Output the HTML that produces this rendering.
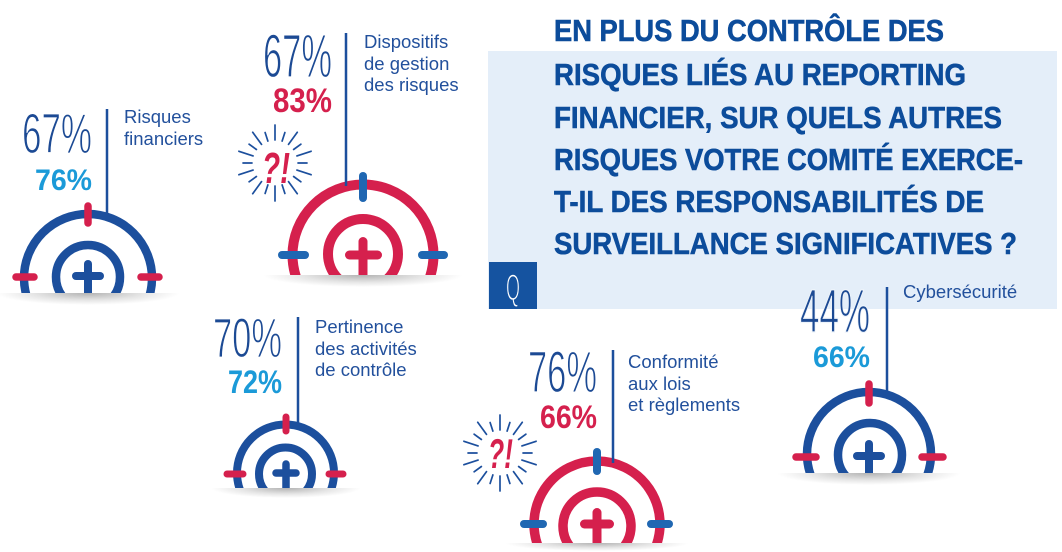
<!DOCTYPE html>
<html><head><meta charset="utf-8"><style>
html,body{margin:0;padding:0;background:#fff;overflow:hidden;width:1062px;height:552px;}
svg{display:block;}
text{font-family:"Liberation Sans",sans-serif;}
.thin{fill:#1c4a94;stroke:#fff;stroke-width:1.2px;}
.lbl{fill:#22509c;font-size:18.5px;}
</style></head><body>
<svg width="1062" height="552" viewBox="0 0 1062 552" xmlns="http://www.w3.org/2000/svg">
<defs>
<radialGradient id="sh" cx="50%" cy="50%" r="50%">
<stop offset="0" stop-color="#000" stop-opacity="0.30"/>
<stop offset="0.6" stop-color="#000" stop-opacity="0.10"/>
<stop offset="1" stop-color="#000" stop-opacity="0"/>
</radialGradient>
<clipPath id="k1"><rect x="0" y="0" width="1062" height="293"/></clipPath>
<clipPath id="k2"><rect x="0" y="0" width="1062" height="275"/></clipPath>
<clipPath id="k3"><rect x="0" y="0" width="1062" height="488"/></clipPath>
<clipPath id="k4"><rect x="0" y="0" width="1062" height="543"/></clipPath>
<clipPath id="k5"><rect x="0" y="0" width="1062" height="473"/></clipPath>
<clipPath id="s1"><rect x="0" y="293" width="1062" height="20"/></clipPath>
<clipPath id="s2"><rect x="0" y="275" width="1062" height="20"/></clipPath>
<clipPath id="s3"><rect x="0" y="488" width="1062" height="20"/></clipPath>
<clipPath id="s4"><rect x="0" y="543" width="1062" height="8"/></clipPath>
<clipPath id="s5"><rect x="0" y="473" width="1062" height="20"/></clipPath>
</defs>

<!-- Title box -->
<rect x="488" y="51" width="569" height="258" fill="#e4eef9"/>
<rect x="489" y="262" width="48" height="47" fill="#1553a0"/>
<text x="506" y="300" font-size="37" textLength="14" lengthAdjust="spacingAndGlyphs" fill="#fff" stroke="#1553a0" stroke-width="1.2">Q</text>
<g fill="#0c4c9b" stroke="#0c4c9b" stroke-width="0.6" font-size="31" font-weight="bold">
<text x="554" y="41" textLength="390" lengthAdjust="spacingAndGlyphs">EN PLUS DU CONTRÔLE DES</text>
<text x="554" y="85" textLength="412" lengthAdjust="spacingAndGlyphs">RISQUES LIÉS AU REPORTING</text>
<text x="554" y="128" textLength="448" lengthAdjust="spacingAndGlyphs">FINANCIER, SUR QUELS AUTRES</text>
<text x="554" y="170" textLength="469" lengthAdjust="spacingAndGlyphs">RISQUES VOTRE COMITÉ EXERCE-</text>
<text x="554" y="212" textLength="430" lengthAdjust="spacingAndGlyphs">T-IL DES RESPONSABILITÉS DE</text>
<text x="554" y="254" textLength="463" lengthAdjust="spacingAndGlyphs">SURVEILLANCE SIGNIFICATIVES ?</text>
</g>

<!-- Shadows -->
<g clip-path="url(#s1)"><ellipse cx="88" cy="293" rx="92" ry="12" fill="url(#sh)"/></g>
<g clip-path="url(#s2)"><ellipse cx="363" cy="275" rx="100" ry="12" fill="url(#sh)"/></g>
<g clip-path="url(#s3)"><ellipse cx="286" cy="488" rx="75" ry="10" fill="url(#sh)"/></g>
<g clip-path="url(#s4)"><ellipse cx="597" cy="543" rx="92" ry="8" fill="url(#sh)"/></g>
<g clip-path="url(#s5)"><ellipse cx="869" cy="473" rx="92" ry="12" fill="url(#sh)"/></g>

<!-- Target 1 : Risques financiers -->
<g stroke="#1c4f9d" fill="none" clip-path="url(#k1)">
<circle cx="88" cy="278" r="64" stroke-width="8.5"/>
<circle cx="88" cy="277" r="32" stroke-width="8.5"/>
<line x1="88" y1="264" x2="88" y2="293" stroke-width="8" stroke-linecap="round"/>
</g>
<line x1="76" y1="276" x2="100" y2="276" stroke="#1c4f9d" stroke-width="8" stroke-linecap="round"/>
<g stroke="#d5204d" stroke-width="7.5" stroke-linecap="round">
<line x1="88" y1="206" x2="88" y2="223"/>
<line x1="16" y1="277" x2="34" y2="277"/>
<line x1="141" y1="277" x2="159" y2="277"/>
</g>
<line x1="107" y1="109" x2="107" y2="215" stroke="#1c4f9d" stroke-width="2.5"/>
<text class="thin" x="22" y="153" font-size="57" textLength="70" lengthAdjust="spacingAndGlyphs">67%</text>
<text x="35" y="190" font-size="30" font-weight="bold" fill="#1b9ad8" textLength="57" lengthAdjust="spacingAndGlyphs">76%</text>
<text class="lbl" x="124" y="123">Risques</text>
<text class="lbl" x="124" y="145">financiers</text>

<!-- Target 2 : Dispositifs -->
<g stroke="#d5204d" fill="none" clip-path="url(#k2)">
<circle cx="363" cy="255" r="70.5" stroke-width="10"/>
<circle cx="363" cy="254" r="35" stroke-width="10"/>
<line x1="363" y1="241.5" x2="363" y2="275" stroke-width="9" stroke-linecap="round"/>
</g>
<line x1="349.5" y1="255" x2="377.5" y2="255" stroke="#d5204d" stroke-width="9" stroke-linecap="round"/>
<g stroke="#2067b2" stroke-width="8" stroke-linecap="round">
<line x1="363" y1="176" x2="363" y2="198"/>
<line x1="282" y1="255" x2="305" y2="255"/>
<line x1="422" y1="255" x2="444" y2="255"/>
</g>
<line x1="346" y1="33" x2="346" y2="186" stroke="#1c4f9d" stroke-width="2.5"/>
<text class="thin" x="263" y="77" font-size="61" textLength="69" lengthAdjust="spacingAndGlyphs">67%</text>
<text x="273" y="112" font-size="34" font-weight="bold" fill="#d5204d" textLength="59" lengthAdjust="spacingAndGlyphs">83%</text>
<text class="lbl" x="364" y="48">Dispositifs</text>
<text class="lbl" x="364" y="70">de gestion</text>
<text class="lbl" x="364" y="91">des risques</text>
<!-- burst 1 -->
<g id="burst" stroke="#1c4f9d" stroke-width="1.7" stroke-linecap="round">
<line x1="275.0" y1="140.0" x2="275.0" y2="125.0"/>
<line x1="282.1" y1="141.1" x2="284.9" y2="132.5"/>
<line x1="288.5" y1="144.4" x2="297.3" y2="132.3"/>
<line x1="293.6" y1="149.5" x2="300.9" y2="144.2"/>
<line x1="296.9" y1="155.9" x2="311.1" y2="151.3"/>
<line x1="298.0" y1="163.0" x2="307.0" y2="163.0"/>
<line x1="296.9" y1="170.1" x2="311.1" y2="174.7"/>
<line x1="293.6" y1="176.5" x2="300.9" y2="181.8"/>
<line x1="288.5" y1="181.6" x2="297.3" y2="193.7"/>
<line x1="282.1" y1="184.9" x2="284.9" y2="193.5"/>
<line x1="275.0" y1="186.0" x2="275.0" y2="201.0"/>
<line x1="267.9" y1="184.9" x2="265.1" y2="193.5"/>
<line x1="261.5" y1="181.6" x2="252.7" y2="193.7"/>
<line x1="256.4" y1="176.5" x2="249.1" y2="181.8"/>
<line x1="253.1" y1="170.1" x2="238.9" y2="174.7"/>
<line x1="252.0" y1="163.0" x2="243.0" y2="163.0"/>
<line x1="253.1" y1="155.9" x2="238.9" y2="151.3"/>
<line x1="256.4" y1="149.5" x2="249.1" y2="144.2"/>
<line x1="261.5" y1="144.4" x2="252.7" y2="132.3"/>
<line x1="267.9" y1="141.1" x2="265.1" y2="132.5"/>
</g>
<text x="262" y="183" font-size="44" font-weight="bold" font-style="italic" fill="#d5204d" textLength="28" lengthAdjust="spacingAndGlyphs">?!</text>

<!-- Target 3 : Pertinence -->
<g stroke="#1c4f9d" fill="none" clip-path="url(#k3)">
<circle cx="285.5" cy="473" r="48.5" stroke-width="8"/>
<circle cx="285.5" cy="474" r="26.5" stroke-width="8"/>
<line x1="286" y1="464" x2="286" y2="488" stroke-width="7.5" stroke-linecap="round"/>
</g>
<line x1="276" y1="473" x2="296" y2="473" stroke="#1c4f9d" stroke-width="7.5" stroke-linecap="round"/>
<g stroke="#d5204d" stroke-width="7" stroke-linecap="round">
<line x1="286" y1="417" x2="286" y2="431"/>
<line x1="227" y1="474" x2="243" y2="474"/>
<line x1="329" y1="474" x2="343" y2="474"/>
</g>
<line x1="298" y1="317" x2="298" y2="426" stroke="#1c4f9d" stroke-width="2.5"/>
<text class="thin" x="213" y="357" font-size="56" textLength="69" lengthAdjust="spacingAndGlyphs">70%</text>
<text x="228" y="393" font-size="32" font-weight="bold" fill="#1b9ad8" textLength="54" lengthAdjust="spacingAndGlyphs">72%</text>
<text class="lbl" x="315" y="333">Pertinence</text>
<text class="lbl" x="315" y="355">des activités</text>
<text class="lbl" x="315" y="376">de contrôle</text>

<!-- Target 4 : Conformité -->
<g stroke="#d5204d" fill="none" clip-path="url(#k4)">
<path d="M538.75,548 A63,63 0 1 1 655.25,548" stroke-width="9.5"/>
<path d="M571.08,548 A34,34 0 1 1 622.92,548" stroke-width="9.5"/>
<line x1="597" y1="512.5" x2="597" y2="543" stroke-width="9" stroke-linecap="butt"/>
</g>
<circle cx="597" cy="512.5" r="4.5" fill="#d5204d"/>
<line x1="584.5" y1="524" x2="609.5" y2="524" stroke="#d5204d" stroke-width="9" stroke-linecap="round"/>
<g stroke="#2067b2" stroke-width="8" stroke-linecap="round">
<line x1="597" y1="452" x2="597" y2="471"/>
<line x1="524" y1="524" x2="543" y2="524"/>
<line x1="651" y1="524" x2="669" y2="524"/>
</g>
<line x1="613" y1="350" x2="613" y2="463" stroke="#1c4f9d" stroke-width="2.5"/>
<text class="thin" x="528" y="392" font-size="58" textLength="69" lengthAdjust="spacingAndGlyphs">76%</text>
<text x="540" y="428" font-size="32" font-weight="bold" fill="#d5204d" textLength="57" lengthAdjust="spacingAndGlyphs">66%</text>
<text class="lbl" x="628" y="368">Conformité</text>
<text class="lbl" x="628" y="390">aux lois</text>
<text class="lbl" x="628" y="411">et règlements</text>
<!-- burst 2 -->
<use href="#burst" transform="translate(225,290)"/>
<text x="488" y="468" font-size="42" font-weight="bold" font-style="italic" fill="#d5204d" textLength="25" lengthAdjust="spacingAndGlyphs">?!</text>

<!-- Target 5 : Cybersécurité -->
<g stroke="#1c4f9d" fill="none" clip-path="url(#k5)">
<circle cx="869" cy="454" r="62" stroke-width="8.5"/>
<circle cx="870" cy="455" r="32" stroke-width="8.5"/>
<line x1="869" y1="444" x2="869" y2="473" stroke-width="8" stroke-linecap="round"/>
</g>
<line x1="857" y1="456" x2="881" y2="456" stroke="#1c4f9d" stroke-width="8" stroke-linecap="round"/>
<g stroke="#d5204d" stroke-width="7.5" stroke-linecap="round">
<line x1="869" y1="384" x2="869" y2="403"/>
<line x1="796" y1="457" x2="816" y2="457"/>
<line x1="922" y1="457" x2="943" y2="457"/>
</g>
<line x1="887" y1="287" x2="887" y2="395" stroke="#1c4f9d" stroke-width="2.5"/>
<text x="800" y="332" font-size="61" textLength="70" lengthAdjust="spacingAndGlyphs" fill="#1c4a94" stroke="#eef4fb" stroke-width="1.2">44%</text>
<text x="813" y="367" font-size="30" font-weight="bold" fill="#1b9ad8" textLength="57" lengthAdjust="spacingAndGlyphs">66%</text>
<text class="lbl" x="903" y="298">Cybersécurité</text>
</svg>
</body></html>
